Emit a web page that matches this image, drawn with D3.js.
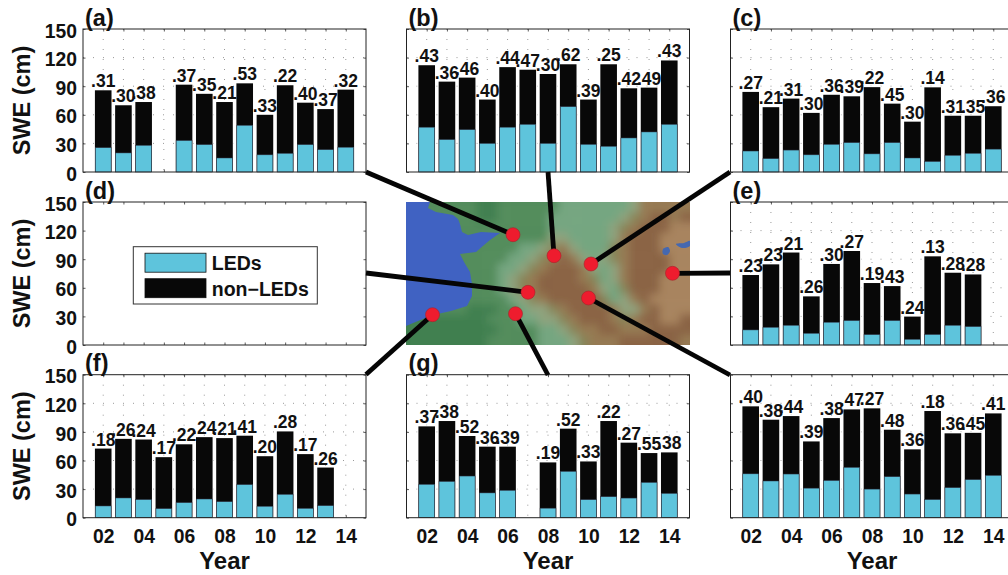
<!DOCTYPE html>
<html><head><meta charset="utf-8">
<script src="https://cdn.jsdelivr.net/npm/d3@7"></script>
<style>html,body{margin:0;padding:0;background:#fff;overflow:hidden}svg{display:block}text{font-family:"Liberation Sans",Arial,sans-serif;font-weight:bold;fill:#111}</style>
</head><body><svg id="c" width="1008" height="575"></svg>
<script>
const years=[2002,2003,2004,2005,2006,2007,2008,2009,2010,2011,2012,2013,2014];
const yTicks=[0,30,60,90,120,150];
const xTickYears=[2002,2004,2006,2008,2010,2012,2014];
const panelNames=["(a)","(b)","(c)","(d)","(e)","(f)","(g)",""];
const colX=[83,406.5,730.5], rowY=[29,202,374.7];
const W=283,H=143;

const totalA=[85.7,70,73.4,null,91.6,82,73.4,93,60,91,72.7,66,86.4];
const ledA=[25.5,20,28,null,33,28.7,14.7,49,18,19.6,28.7,23.4,26];
const labelA=[".31",".30",".38",null,".37",".35",".21",".53",".33",".22",".40",".37",".32"];
const totalB=[112,94.8,99,76,110,107.3,102.8,113,76,113,87.8,88.5,117];
const ledB=[47,34,44.4,30,47,50,30,68.5,29,27,35.7,42,50];
const labelB=[".43",".36",".46",".40",".44",".47",".30",".62",".39",".25",".42",".49",".43"];
const totalC=[84,68,77,62,81,79.4,89,71.7,52.8,88.8,59,59,69];
const ledC=[22,14,23,18,29,30.8,19,30.8,14.7,11,17.5,19.6,24];
const labelC=[".27",".21",".31",".30",".36",".39",".22",".45",".30",".14",".31",".35",".36"];
const totalE=[73.4,84.6,97,51,85,98.6,65,61.8,29.8,93,75.8,74,null];
const ledE=[15.8,18.6,20.7,12.3,23.9,25.6,10.9,25.6,6,11,20.7,19.3,null];
const labelE=[".23",".23",".21",".26",".30",".27",".19",".43",".24",".13",".28",".28",null];
const totalF=[72.5,82.7,82,63.5,77,84.5,83.5,86,64.5,90.5,66.7,52.6,null];
const ledF=[12.3,20.7,19,9.5,15.8,19.6,16.8,34.7,12,24.5,9.8,12.6,null];
const labelF=[".18",".26",".24",".17",".22",".24",".21",".41",".20",".28",".17",".26",null];
const totalG=[95.8,101.4,85.7,74.5,74.5,null,58,93.4,59,101.4,78.7,67.8,68.5];
const ledG=[35,38,43.7,26,28.7,null,10,48.6,18.9,22,20.6,37,25.5];
const labelG=[".37",".38",".52",".36",".39",null,".19",".52",".33",".22",".27",".55",".38"];
const totalH=[116.8,102.8,106.6,80,104.5,113.6,114.7,92.3,71.7,111.9,88.5,89,109.4];
const ledH=[46,38.5,45.8,31,39,52.8,30,43,24.8,19,31.5,39.9,44.4];
const labelH=[".40",".38",".44",".39",".38",".47",".27",".48",".36",".18",".36",".45",".41"];

const panelTotals=[totalA,totalB,totalC,null,totalE,totalF,totalG,totalH];
const panelLeds=[ledA,ledB,ledC,null,ledE,ledF,ledG,ledH];
const panelLabels=[labelA,labelB,labelC,null,labelE,labelF,labelG,labelH];
const panelCells=[[0,0],[1,0],[2,0],[0,1],[2,1],[0,2],[1,2],[2,2]];

const legendItems=["LEDs","non\u2212LEDs"];
const legendColors=["#5ec4dc","#080808"];

/* map: elevation class grid, coast and lake outlines in map units */
const elevation=[
[1,1,1,1,1,1,1,0,0,1,1,1,1,1,1,2,2,2,2,2,2,2,3,5,5,5,5,5],
[1,1,1,1,1,1,1,0,0,1,1,1,1,1,2,2,2,2,2,2,2,3,4,5,6,6,5,6],
[1,1,1,1,1,1,1,1,1,1,1,1,1,1,2,2,2,2,2,2,3,4,5,6,6,6,7,7],
[1,1,1,1,1,1,1,1,1,1,1,1,1,1,3,3,2,2,2,2,3,5,6,6,6,7,7,7],
[1,1,1,1,1,1,1,1,1,1,1,2,2,3,4,5,3,2,2,2,4,5,6,6,6,7,7,7],
[1,1,1,1,1,1,1,1,1,1,2,2,3,4,5,6,5,3,2,3,4,5,6,6,6,6,7,7],
[1,1,1,1,1,1,1,1,1,2,2,3,4,5,6,6,6,5,3,2,3,5,6,6,6,6,7,7],
[1,1,1,1,1,1,1,1,1,2,3,4,5,6,6,6,6,5,4,2,3,5,6,6,6,7,7,7],
[1,1,1,1,1,1,1,1,1,2,3,4,5,6,6,6,6,6,5,3,2,4,6,6,6,7,7,7],
[1,1,1,1,1,1,1,1,1,1,2,3,4,5,6,6,6,6,6,4,2,3,5,6,7,7,7,7],
[1,1,1,1,1,1,0,0,0,1,1,2,3,3,4,5,6,6,6,6,5,3,3,5,6,7,7,7],
[0,0,0,0,0,0,0,0,1,1,1,2,2,3,3,4,5,6,6,6,5,4,5,6,6,7,7,6],
[0,0,0,0,0,0,0,0,0,1,1,1,1,2,2,3,4,5,5,6,6,5,5,5,6,6,6,6],
[0,0,0,0,0,0,0,0,1,1,1,1,1,2,2,2,3,4,5,5,5,6,6,6,6,6,6,5]];
const elevationColors=["#417f50","#528c5c","#74a680","#8fa37e","#878559","#967a52","#8a6445","#a8845f"];
const coast=[[0,0],[24,0],[22,6],[30,10],[47,13],[52,17],[54,22],[56,30],[62,33],[75,30],[94,31],[84,38],[78,43],[70,50],[54,52],[58,60],[64,70],[66,82],[66,94],[61,104],[45,109],[27,113],[12,119],[0,124]];
const lakes=[[[257,47],[262,45],[264,49],[261,53],[257,52]],[[270,42],[278,41],[284,39],[284,44],[276,46]]];
const mapDomainX=[0,284], mapDomainY=[0,143];

/* sites in map units, with the panel attachment point in page proportions */
const siteX=[107,148,185,266.5,122,182.5,26.5,109.5];
const siteY=[32.7,53.7,62,71.3,90.3,96,112.7,111.7];
const leaderTargetX=[366,548,730,730,366,730,366,548];
const leaderTargetY=[172,172,172,273,273,375,374.5,375];

const svg=d3.select("#c");
const defs=svg.append("defs");
defs.append("filter").attr("id","mapblur").attr("x","-10%").attr("y","-10%").attr("width","120%").attr("height","120%")
  .append("feGaussianBlur").attr("stdDeviation",4);
defs.append("filter").attr("id","seablur").append("feGaussianBlur").attr("stdDeviation",0.7);
defs.append("clipPath").attr("id","mapclip").append("rect").attr("x",406).attr("y",202).attr("width",284).attr("height",143);

/* panels */
panelCells.forEach((cell,i)=>{
  const px=colX[cell[0]],py=rowY[cell[1]];
  const x=d3.scaleLinear().domain([2001,2015]).range([0,W]);
  const y=d3.scaleLinear().domain([0,150]).range([H,0]);
  const g=svg.append("g").attr("transform",`translate(${px},${py})`);
  const totals=panelTotals[i];
  if(totals){
    const grid=g.append("g").attr("stroke","#999").attr("stroke-width",1).attr("stroke-dasharray","1,9").attr("fill","none");
    years.forEach(v=>grid.append("line").attr("x1",x(v)).attr("x2",x(v)).attr("y1",0).attr("y2",H));
    yTicks.slice(1,-1).forEach(v=>grid.append("line").attr("x1",0).attr("x2",W).attr("y1",y(v)).attr("y2",y(v)));
  }
  const bottomRow=cell[1]===2, leftCol=cell[0]===0;
  const ax=d3.axisBottom(x).tickValues(bottomRow?xTickYears:years).tickFormat(bottomRow?(d=>String(d%100).padStart(2,"0")):"").tickSizeInner(-2.5).tickSizeOuter(0).tickPadding(11.5);
  const ay=d3.axisLeft(y).tickValues(yTicks).tickFormat(leftCol?(d=>d):"").tickSizeInner(-2.5).tickSizeOuter(0).tickPadding(6);
  const gx=g.append("g").attr("transform",`translate(0,${H})`).call(ax);
  const gy=g.append("g").call(ay);
  g.append("g").attr("transform",`translate(${W},0)`).call(d3.axisRight(y).tickValues(yTicks).tickFormat("").tickSizeInner(-2.5).tickSizeOuter(0));
  g.append("g").call(d3.axisTop(x).tickValues(years).tickFormat("").tickSizeInner(-2.5).tickSizeOuter(0));
  [gx,gy].forEach(a=>a.selectAll("text").style("font-size","19.3px").style("font-family",'"Liberation Sans"').style("font-weight","bold").attr("fill","#111"));
  gy.selectAll("text").attr("dy","0.42em");
  g.selectAll(".domain").attr("stroke","none");
  g.selectAll(".tick line").attr("stroke","#333").attr("stroke-width",0.8);
  if(totals){
    const leds=panelLeds[i],labels=panelLabels[i],bw=16.6;
    const data=years.map((yr,k)=>({yr,t:totals[k],l:leds[k],lab:labels[k]})).filter(d=>d.t!==null);
    g.selectAll(".halo").data(data).join("rect").attr("x",d=>x(d.yr)-bw/2-1).attr("width",bw+2).attr("y",d=>y(d.t)-1).attr("height",d=>H-y(d.t)+1).attr("fill","#fff");
    g.selectAll(".blk").data(data).join("rect").attr("x",d=>x(d.yr)-bw/2).attr("width",bw).attr("y",d=>y(d.t)).attr("height",d=>H-y(d.t)).attr("fill","#080808");
    g.selectAll(".led").data(data).join("rect").attr("x",d=>x(d.yr)-bw/2+.4).attr("width",bw-.8).attr("y",d=>y(d.l)).attr("height",d=>H-y(d.l)).attr("fill","#5ec4dc").attr("stroke","#334").attr("stroke-width",.5);
    g.selectAll(".lab").data(data).join("text").attr("x",d=>x(d.yr)).attr("y",d=>y(d.t)-3).attr("text-anchor","middle").style("font-size","17.5px").text(d=>d.lab);
  }
  g.append("rect").attr("width",W).attr("height",H).attr("fill","none").attr("stroke","#222").attr("stroke-width",1);
  g.append("text").attr("x",2).attr("y",-3.5).style("font-size","23.5px").text(panelNames[i]);
  if(leftCol) g.append("text").attr("transform",`translate(-53,${H/2}) rotate(-90)`).attr("text-anchor","middle").style("font-size","23.5px").text("SWE (cm)");
  if(bottomRow) g.append("text").attr("x",x(2008)).attr("y",H+51).attr("text-anchor","middle").style("font-size","24px").text("Year");
  if(i===3){
    const lg=g.append("g");
    const bx=x(2001)+50.3,by=y(150)+44.7,bw2=184,bh=57.3;
    lg.append("rect").attr("x",bx).attr("y",by).attr("width",bw2).attr("height",bh).attr("fill","#fff").attr("stroke","#333").attr("stroke-width",1);
    legendItems.forEach((t,k)=>{
      const yy=by+6.5+k*25.5;
      lg.append("rect").attr("x",bx+11.7).attr("y",yy).attr("width",61).attr("height",19).attr("fill",legendColors[k]).attr("stroke","#111").attr("stroke-width",.8);
      lg.append("text").attr("x",bx+78.5).attr("y",yy+17).style("font-size","19.5px").text(t);
    });
  }
});

/* map */
const mx=d3.scaleLinear().domain(mapDomainX).range([406,690]);
const my=d3.scaleLinear().domain(mapDomainY).range([202,345]);
const mapG=svg.append("g").attr("clip-path","url(#mapclip)");
const nR=elevation.length,nC=elevation[0].length;
const blurG=mapG.append("g").attr("filter","url(#mapblur)");
/* padding cells beyond the frame keep the blur from fading at the edges */
for(let r=-2;r<nR+2;r++)for(let c=-2;c<nC+2;c++){
  const rr=Math.max(0,Math.min(nR-1,r)),cc=Math.max(0,Math.min(nC-1,c));
  const ux=mapDomainX[1]/nC,uy=mapDomainY[1]/nR;
  blurG.append("rect").attr("x",mx(c*ux)).attr("y",my(r*uy)).attr("width",mx(ux)-mx(0)+.5).attr("height",my(uy)-my(0)+.5).attr("fill",elevationColors[elevation[rr][cc]]);
}
const line=d3.line().x(d=>mx(d[0])).y(d=>my(d[1])).curve(d3.curveCatmullRomClosed.alpha(.5));
const polyline=d3.line().x(d=>mx(d[0])).y(d=>my(d[1]));
mapG.append("path").attr("d",polyline(coast)+"Z").attr("fill","#3f62c2").attr("filter","url(#seablur)");
lakes.forEach(l=>mapG.append("path").attr("d",line(l)).attr("fill","#4568b0").attr("filter","url(#seablur)"));

/* leaders & sites */
svg.append("g").selectAll("line").data(siteX).join("line")
  .attr("x1",(d,i)=>mx(d)).attr("y1",(d,i)=>my(siteY[i])).attr("x2",(d,i)=>leaderTargetX[i]).attr("y2",(d,i)=>leaderTargetY[i])
  .attr("stroke","#050505").attr("stroke-width",4.8);
svg.append("g").selectAll("circle").data(siteX).join("circle")
  .attr("cx",d=>mx(d)).attr("cy",(d,i)=>my(siteY[i])).attr("r",7).attr("fill","#ee1c2e").attr("stroke","#a8222a").attr("stroke-width",.6);
</script></body></html>
